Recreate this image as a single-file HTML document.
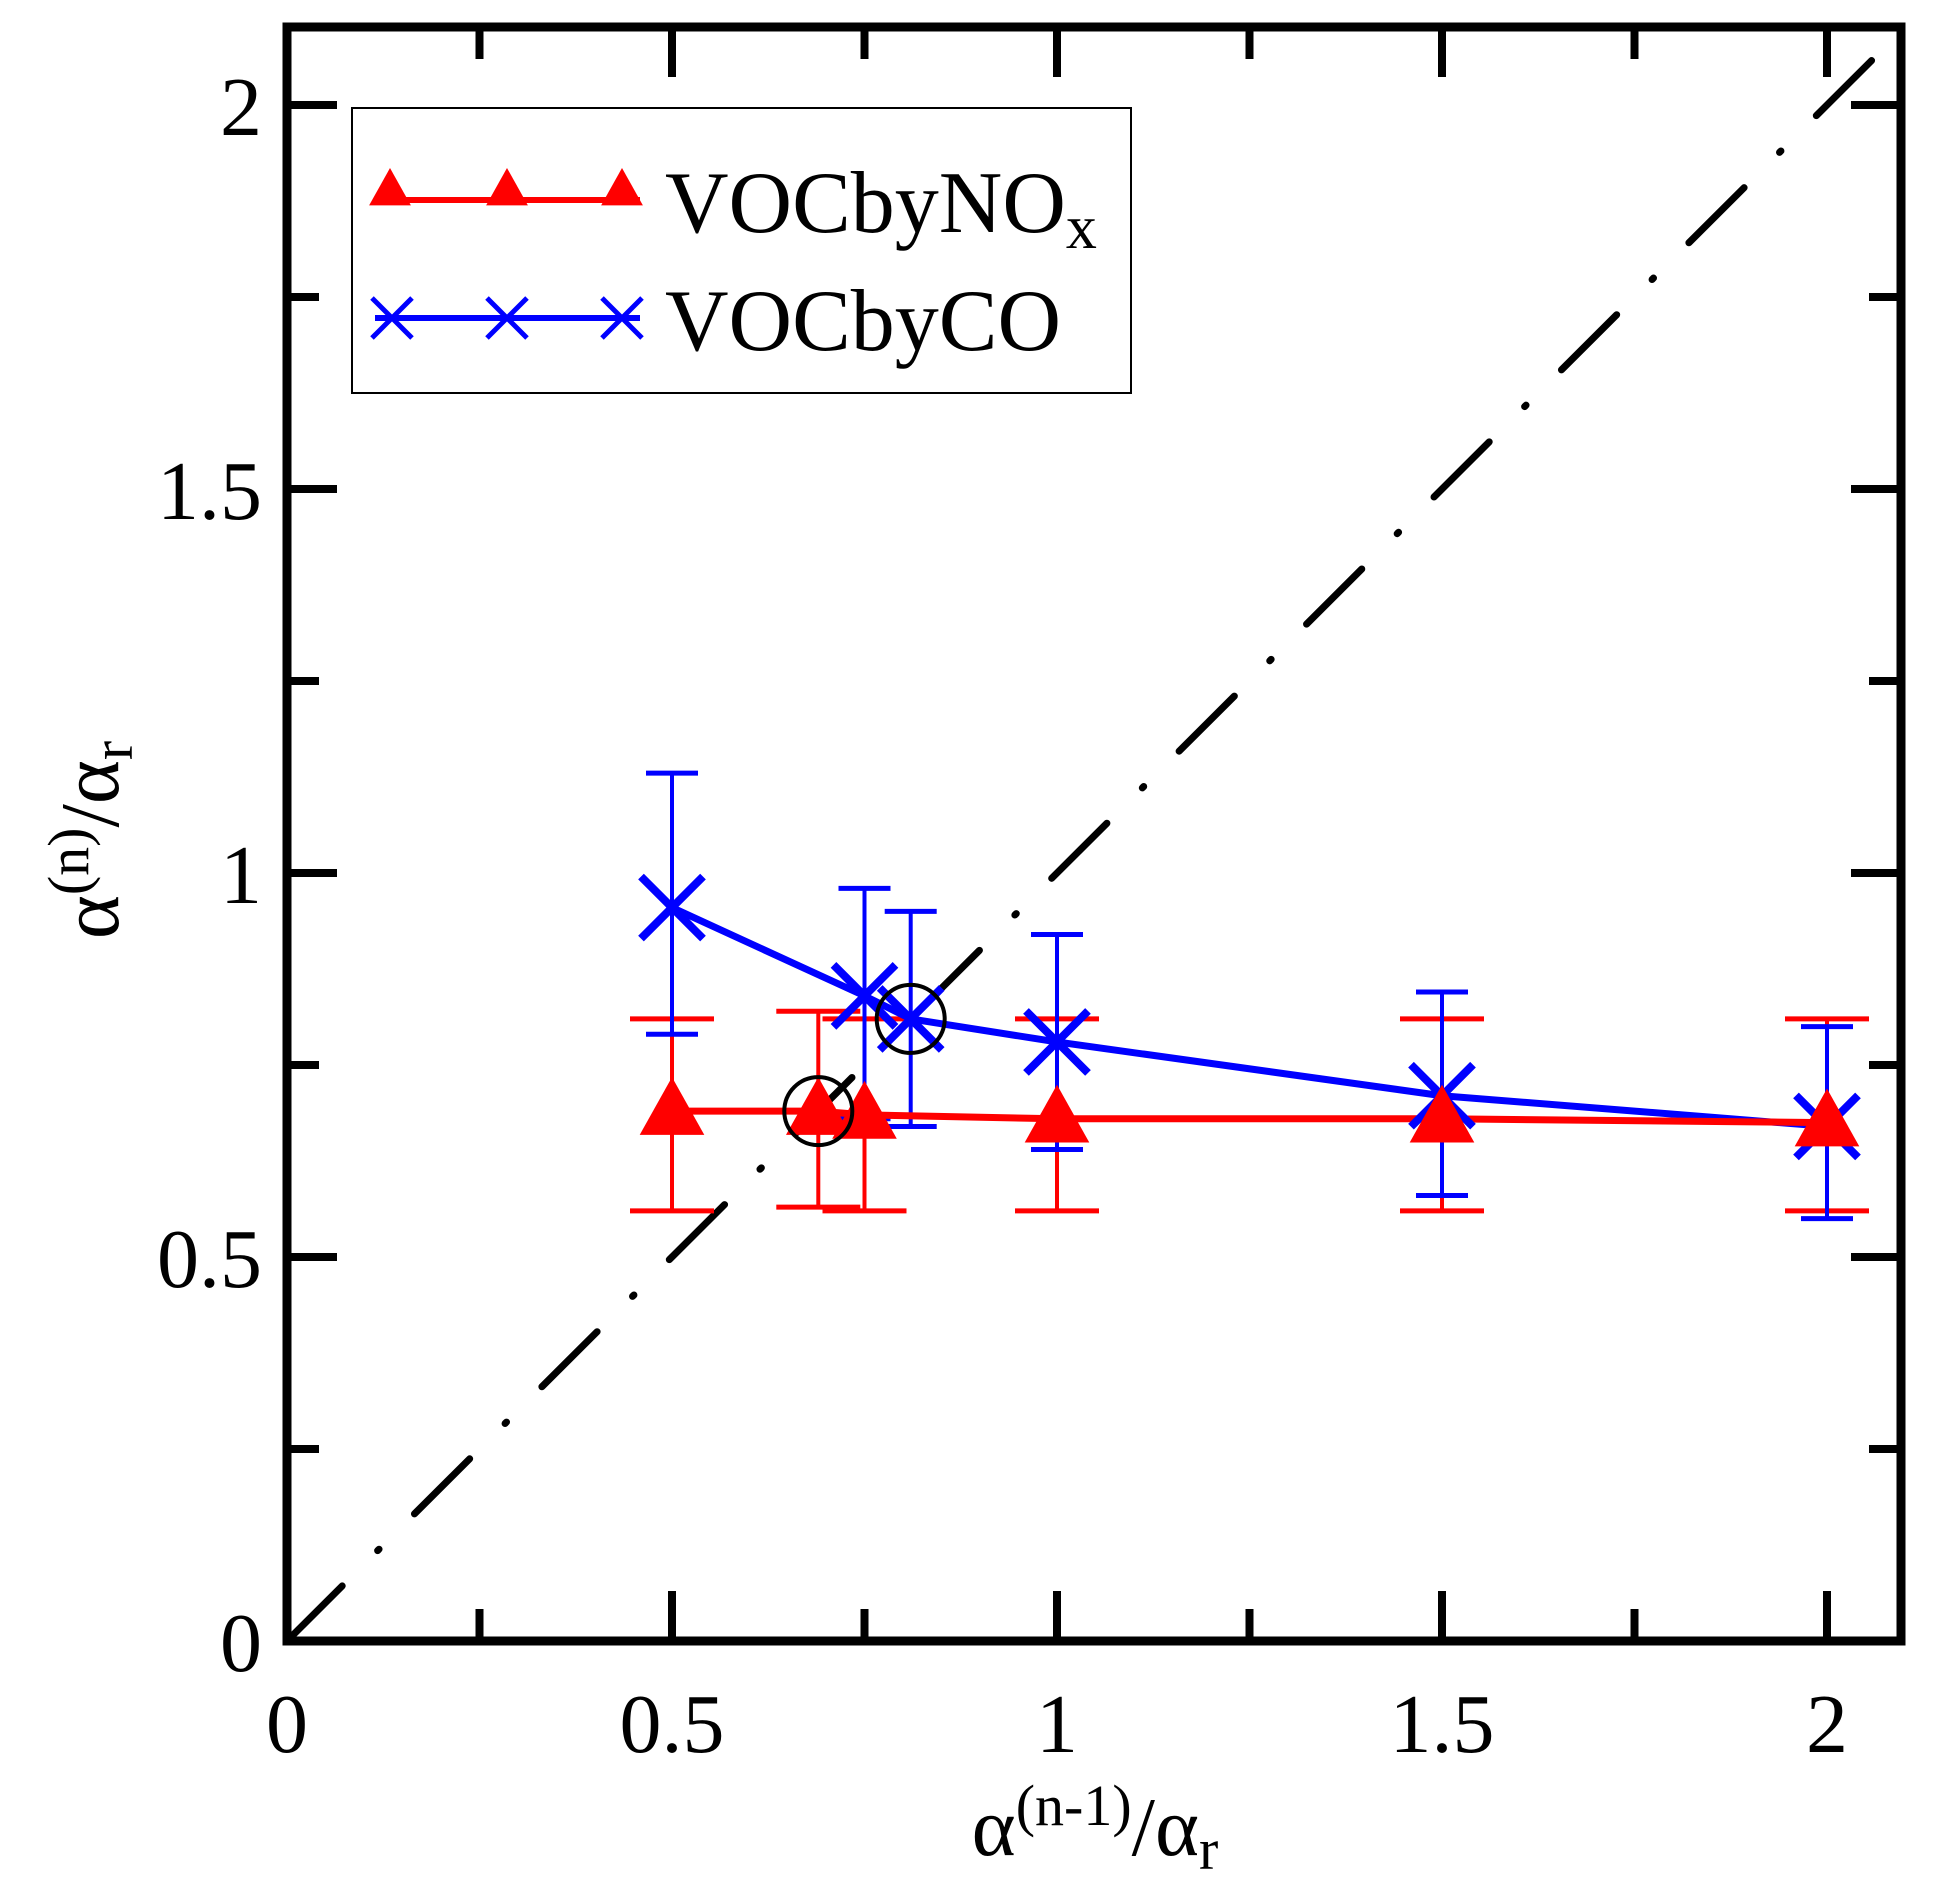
<!DOCTYPE html>
<html><head><meta charset="utf-8"><style>
html,body{margin:0;padding:0;background:#fff}
svg text{font-family:"Liberation Serif",serif}
</style></head><body>
<svg id="chart" width="1938" height="1894" viewBox="0 0 1938 1894" xmlns="http://www.w3.org/2000/svg">
<g id="plot"></g>
</svg>
<script>
const xCats = [0.5, 0.69, 0.75, 1.0, 1.5, 2.0];
const noxY = [0.69, 0.69, 0.685, 0.68, 0.68, 0.675];
const noxLo = [0.56, 0.565, 0.56, 0.56, 0.56, 0.56];
const noxHi = [0.81, 0.82, 0.81, 0.81, 0.81, 0.81];
const coX = [0.5, 0.75, 0.81, 1.0, 1.5, 2.0];
const coY = [0.955, 0.84, 0.81, 0.78, 0.71, 0.67];
const coLo = [0.79, 0.68, 0.67, 0.64, 0.58, 0.55];
const coHi = [1.13, 0.98, 0.95, 0.92, 0.845, 0.80];
const circled = [[0.69, 0.69], [0.81, 0.81]];
const tickVals = [0, 0.5, 1, 1.5, 2];
const tickLabels = ["0", "0.5", "1", "1.5", "2"];

const NS = "http://www.w3.org/2000/svg";
const X0 = 287, XU = 770, Y0 = 1641, YU = 768, XR = 1901, YT = 27;
const sx = v => X0 + v * XU, sy = v => Y0 - v * YU;
const g = document.getElementById('plot');
function mk(tag, attrs, parent) {
  const e = document.createElementNS(NS, tag);
  for (const k in attrs) e.setAttribute(k, attrs[k]);
  (parent || g).appendChild(e);
  return e;
}
let d = mk('line', {x1: sx(0), y1: sy(0), x2: sx(2.1), y2: sy(2.1), stroke: '#000', 'stroke-width': 7, 'stroke-dasharray': '78 50 2 50', 'stroke-linecap': 'round'});


function errbar(x, lo, hi, col, cap, name) {
  const eg = mk('g', {});
  
  
  mk('line', {x1: sx(x), x2: sx(x), y1: sy(lo), y2: sy(hi), stroke: col, 'stroke-width': 4}, eg);
  mk('line', {x1: sx(x) - cap, x2: sx(x) + cap, y1: sy(lo), y2: sy(lo), stroke: col, 'stroke-width': 5}, eg);
  mk('line', {x1: sx(x) - cap, x2: sx(x) + cap, y1: sy(hi), y2: sy(hi), stroke: col, 'stroke-width': 5}, eg);
}
xCats.forEach((x, i) => errbar(x, noxLo[i], noxHi[i], '#f00', 42, 'nox-errorbar'));
coX.forEach((x, i) => errbar(x, coLo[i], coHi[i], '#00f', 26, 'co-errorbar'));
let p1 = mk('polyline', {points: coX.map((x, i) => sx(x) + ',' + sy(coY[i])).join(' '), fill: 'none', stroke: '#00f', 'stroke-width': 7});


let p2 = mk('polyline', {points: xCats.map((x, i) => sx(x) + ',' + sy(noxY[i])).join(' '), fill: 'none', stroke: '#f00', 'stroke-width': 7});


function tri(cx, cy, s, parent) {
  return mk('polygon', {points: `${cx},${cy - s} ${cx - s * 0.95},${cy + s * 0.7} ${cx + s * 0.95},${cy + s * 0.7}`, fill: '#f00'}, parent);
}
function cross(cx, cy, s, parent) {
  const cg = mk('g', {}, parent);
  mk('line', {x1: cx - s, y1: cy - s, x2: cx + s, y2: cy + s, stroke: '#00f', 'stroke-width': 8}, cg);
  mk('line', {x1: cx - s, y1: cy + s, x2: cx + s, y2: cy - s, stroke: '#00f', 'stroke-width': 8}, cg);
  return cg;
}
coX.forEach((x, i) => {
  const c = cross(sx(x), sy(coY[i]), 31);
  
  
});
xCats.forEach((x, i) => {
  const t = tri(sx(x), sy(noxY[i]), 34);
  
  
});
circled.forEach(c => {
  const e = mk('circle', {cx: sx(c[0]), cy: sy(c[1]), r: 34, fill: 'none', stroke: '#000', 'stroke-width': 4});
  
  
});
let fr = mk('rect', {x: X0, y: YT, width: XR - X0, height: Y0 - YT, fill: 'none', stroke: '#000', 'stroke-width': 9});


for (let k = 1; k <= 8; k++) {
  const v = k * 0.25, L = (k % 2 === 0) ? 50 : 32;
  mk('line', {x1: sx(v), x2: sx(v), y1: Y0, y2: Y0 - L, stroke: '#000', 'stroke-width': 8});
  mk('line', {x1: sx(v), x2: sx(v), y1: YT, y2: YT + L, stroke: '#000', 'stroke-width': 8});
  mk('line', {y1: sy(v), y2: sy(v), x1: X0, x2: X0 + L, stroke: '#000', 'stroke-width': 8});
  mk('line', {y1: sy(v), y2: sy(v), x1: XR, x2: XR - L, stroke: '#000', 'stroke-width': 8});
}
tickVals.forEach((v, i) => {
  const tx = mk('text', {x: sx(v), y: 1752, 'font-size': 84, 'text-anchor': 'middle'});
  tx.textContent = tickLabels[i];
  
  
  const ty = mk('text', {x: 262, y: sy(v) + 30, 'font-size': 84, 'text-anchor': 'end'});
  ty.textContent = tickLabels[i];
  
  
});
let xt = mk('text', {x: 1095, y: 1855, 'font-size': 84, 'text-anchor': 'middle'});
xt.innerHTML = 'α<tspan dy="-30" font-size="58">(n-1)</tspan><tspan dy="30">/α</tspan><tspan dy="14" font-size="58">r</tspan>';


let yt = mk('text', {x: 0, y: 0, 'font-size': 84, 'text-anchor': 'middle', transform: 'translate(118,840) rotate(-90)'});
yt.innerHTML = 'α<tspan dy="-30" font-size="58">(n)</tspan><tspan dy="30">/α</tspan><tspan dy="14" font-size="58">r</tspan>';


const lg = mk('g', {});


mk('rect', {x: 352, y: 108, width: 779, height: 285, fill: '#fff', stroke: '#000', 'stroke-width': 2}, lg);
const e1 = mk('g', {}, lg);


mk('line', {x1: 375, x2: 640, y1: 200, y2: 200, stroke: '#f00', 'stroke-width': 6}, e1);
[390, 507, 622].forEach(x => tri(x, 190, 22, e1));
const t1 = mk('text', {x: 665, y: 232, 'font-size': 88}, e1);
t1.innerHTML = 'VOCbyNO<tspan dy="16" font-size="62">x</tspan>';
const e2 = mk('g', {}, lg);


mk('line', {x1: 375, x2: 640, y1: 318, y2: 318, stroke: '#00f', 'stroke-width': 6}, e2);
[392, 507, 622].forEach(x => { const c = cross(x, 318, 20, e2); c.querySelectorAll('line').forEach(l => l.setAttribute('stroke-width', 5)); });
const t2 = mk('text', {x: 665, y: 350, 'font-size': 88}, e2);
t2.textContent = 'VOCbyCO';
</script>
</body></html>
